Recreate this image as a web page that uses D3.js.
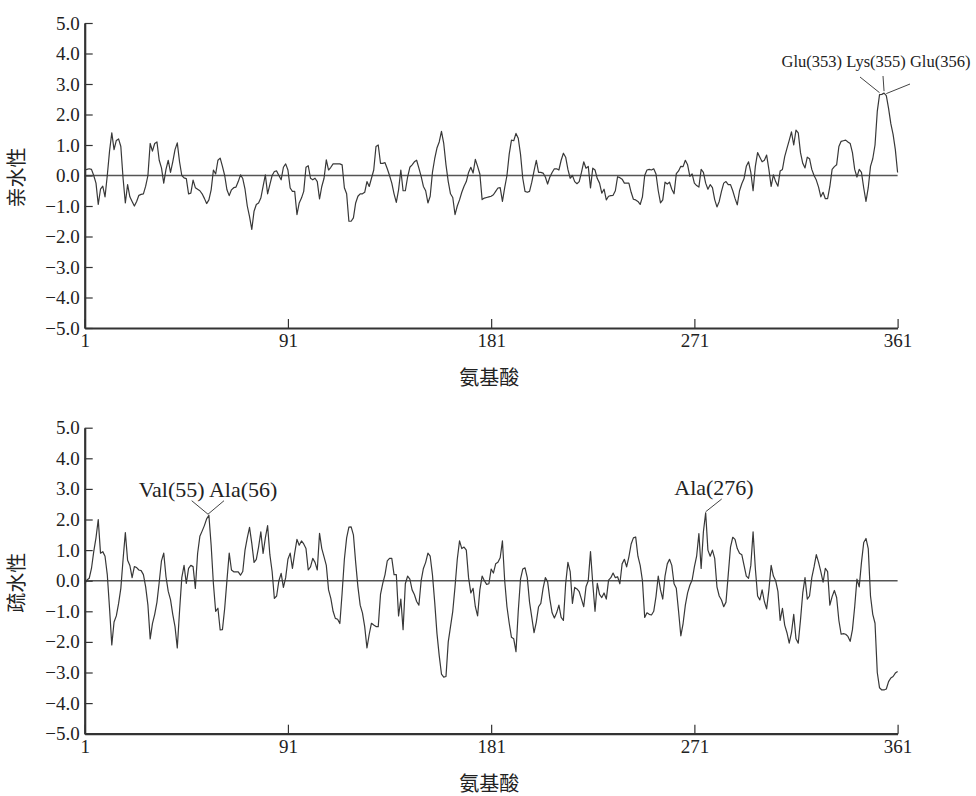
<!DOCTYPE html>
<html><head><meta charset="utf-8">
<script src="https://cdn.jsdelivr.net/npm/d3@7"></script>
<style>body{margin:0;background:#fff}</style>
</head><body>
<svg id="chart" width="976" height="796"></svg>
<script>
const residues = d3.range(1, 362);
const hydrophilicity = [
0.18,0.2,0.22,0.2,0.0,-0.25,-0.95,-0.45,-0.35,-0.7,
0.0,0.8,1.4,0.85,1.15,1.2,0.95,-0.1,-0.9,-0.3,
-0.7,-0.85,-1.0,-0.85,-0.65,-0.62,-0.6,-0.35,0.0,1.05,
0.8,1.05,1.1,0.5,0.25,-0.25,0.2,0.5,0.1,0.45,
0.85,1.07,0.45,0.0,-0.08,-0.1,-0.6,-0.58,-0.15,-0.4,
-0.45,-0.5,-0.6,-0.75,-0.92,-0.8,-0.47,0.18,0.05,0.5,
0.57,0.3,0.0,-0.47,-0.66,-0.47,-0.4,-0.38,-0.2,0.02,
-0.1,-0.45,-1.0,-1.35,-1.77,-1.17,-0.95,-0.9,-0.74,-0.36,
0.02,-0.6,-0.3,0.0,0.13,0.15,0.0,-0.14,0.27,0.38,
0.18,-0.41,-0.52,-0.52,-1.28,-0.9,-0.74,-0.52,0.27,0.32,
-0.09,-0.14,-0.09,-0.2,-0.77,-0.36,-0.09,0.51,0.18,0.27,
0.38,0.38,0.38,0.38,0.35,-0.4,-0.6,-1.5,-1.5,-1.39,
-0.9,-0.68,-0.6,-0.6,-0.55,-0.2,-0.36,-0.09,0.18,0.95,
1.0,0.4,0.4,0.42,0.22,0.0,-0.25,-0.6,-0.88,-0.47,
0.18,-0.5,-0.5,-0.05,0.27,0.35,0.45,0.5,0.24,-0.03,
-0.36,-0.5,-0.9,-0.68,0.1,0.55,0.9,1.1,1.45,1.05,
0.35,-0.2,-0.6,-0.72,-1.28,-1.0,-0.8,-0.55,-0.35,-0.2,
0.1,0.27,0.08,0.53,0.3,0.05,-0.79,-0.74,-0.72,-0.7,
-0.68,-0.63,-0.52,-0.41,-0.4,-0.85,-0.4,0.0,0.7,1.16,
1.14,1.38,1.22,0.7,-0.09,-0.52,-0.55,-0.52,-0.22,0.15,
0.5,0.1,0.1,0.08,-0.05,-0.28,-0.05,0.1,0.22,0.22,
0.18,0.5,0.73,0.6,0.2,-0.09,0.0,-0.2,-0.27,-0.2,
0.1,0.45,0.24,0.3,-0.41,0.24,0.18,-0.1,-0.25,-0.58,
-0.45,-0.8,-0.68,-0.66,-0.65,-0.5,-0.04,-0.07,-0.12,-0.25,
-0.25,-0.25,-0.55,-0.78,-0.8,-0.85,-0.95,-0.7,0.0,0.18,
0.2,0.18,0.22,0.05,-0.5,-0.9,-0.8,-0.22,-0.28,-0.22,
-0.45,-0.6,0.06,0.15,0.3,0.29,0.5,0.35,-0.03,0.05,
-0.25,-0.33,-0.38,0.2,0.1,-0.25,-0.45,-0.3,-0.4,-0.79,
-1.03,-0.85,-0.52,-0.25,-0.2,-0.3,-0.3,-0.5,-0.75,-0.96,
-0.5,-0.27,-0.1,0.3,0.45,0.1,-0.5,0.3,0.75,0.6,
0.45,0.5,0.67,0.2,-0.36,0.02,-0.2,-0.35,0.15,0.2,
0.62,0.89,1.15,1.43,1.0,1.49,1.4,0.75,0.4,0.25,
0.6,0.55,0.2,0.0,-0.15,-0.38,-0.7,-0.55,-0.76,-0.76,
-0.36,0.2,0.29,0.35,0.95,1.12,1.14,1.16,1.1,1.05,
0.75,0.2,-0.05,0.2,0.1,-0.41,-0.85,-0.4,0.3,0.55,
1.0,2.1,2.65,2.66,2.7,2.62,2.2,1.7,1.35,0.85,0.1
];
const hydrophobicity = [
-0.1,0.02,0.08,0.4,0.95,1.4,2.0,0.9,0.95,0.8,
0.2,-0.9,-2.1,-1.35,-1.15,-0.75,-0.25,0.7,1.57,0.67,
0.5,0.1,0.46,0.43,0.35,0.33,0.2,-0.2,-0.8,-1.9,
-1.4,-1.1,-0.7,-0.05,0.65,0.9,0.13,-0.35,-0.62,-1.1,
-1.5,-2.2,-1.0,0.1,0.5,-0.09,0.4,0.5,0.46,-0.25,
0.89,1.45,1.62,1.8,2.02,2.14,1.16,-0.1,-1.0,-0.9,
-1.61,-1.6,-0.9,0.02,0.9,0.35,0.29,0.29,0.29,0.18,
0.3,1.0,1.4,1.74,1.22,0.6,0.7,1.1,1.6,0.89,
1.4,1.8,0.85,0.3,-0.58,-0.5,0.0,0.24,-0.22,0.1,
0.7,0.9,0.4,0.9,1.35,1.16,1.3,1.2,1.05,0.35,
0.45,0.73,0.6,0.35,1.55,1.05,0.78,0.5,-0.3,-0.58,
-1.0,-1.23,-1.26,-1.4,-0.4,0.7,1.4,1.75,1.76,1.5,
0.6,-0.2,-0.8,-1.05,-1.5,-2.2,-1.75,-1.39,-1.45,-1.5,
-1.5,-0.45,-0.09,0.2,0.65,0.73,0.73,0.2,0.2,-1.15,
-0.6,-1.6,-0.1,0.15,0.05,-0.3,-0.45,-0.68,-0.8,0.0,
0.4,0.6,0.9,0.8,0.2,-0.7,-1.72,-2.45,-3.05,-3.15,
-3.13,-2.0,-1.5,-1.0,-0.2,0.7,1.3,1.05,1.1,1.0,
0.1,-0.4,-0.25,-0.85,-1.15,-0.3,0.15,0.0,-0.12,-0.1,
0.38,0.25,0.55,0.6,0.75,1.3,0.0,-0.85,-1.39,-1.85,
-1.9,-2.32,-1.0,0.05,0.38,0.42,0.1,-0.7,-1.2,-1.7,
-1.35,-0.85,-0.74,-0.25,0.1,-0.03,-0.6,-1.05,-1.22,-1.05,
-0.8,-1.2,-1.3,-0.1,0.6,0.3,-0.74,-0.22,-0.27,-0.36,
-0.6,-0.85,-0.2,0.0,0.95,-0.09,-1.0,-0.09,-0.45,-0.55,
-0.4,-0.6,0.02,0.1,0.25,0.1,0.13,-0.1,0.55,0.7,
0.45,0.78,1.2,1.4,1.43,0.8,0.5,0.0,-1.2,-1.05,
-1.1,-1.12,-1.0,-0.52,0.15,-0.3,-0.6,0.15,0.55,0.7,
0.5,-0.1,-0.25,-1.0,-1.8,-1.4,-0.8,-0.4,-0.15,0.02,
0.45,0.8,1.54,0.4,1.6,2.22,1.0,0.8,1.0,0.73,
-0.2,-0.5,-0.63,-0.85,-0.7,0.2,1.1,1.42,1.35,1.05,
0.9,0.85,0.5,0.15,0.08,0.5,1.6,0.4,-0.5,-0.63,
-0.3,-0.68,-0.92,-0.3,0.5,0.15,0.0,-0.35,-1.3,-0.9,
-1.45,-1.7,-2.04,-1.7,-1.1,-1.9,-2.04,-1.28,-0.4,0.1,
-0.6,-0.5,0.1,0.45,0.85,0.6,0.3,-0.05,0.4,0.3,
-0.8,-0.52,-0.32,-0.55,-1.3,-1.75,-1.73,-1.75,-1.82,-1.98,
-1.6,-0.85,0.05,-0.2,0.6,1.25,1.38,1.05,-0.5,-1.1,
-1.39,-3.0,-3.5,-3.57,-3.57,-3.54,-3.3,-3.18,-3.13,-3.02,-2.97
];
const xTickValues = [1, 91, 181, 271, 361];
const yTickValues = [-5, -4, -3, -2, -1, 0, 1, 2, 3, 4, 5];
const xTitle = "氨基酸";
const yTitles = ["亲水性", "疏水性"];
const topLabels = ["Glu(353) Lys(355) Glu(356)"];
const topLabelResidues = [353, 355, 356];
const bottomLabels = ["Val(55) Ala(56)", "Ala(276)"];
const bottomLabelResidues = [[55, 56], [276]];

const svg = d3.select("#chart");
const serif = "'Liberation Serif','DejaVu Serif',serif";
const cjk = "'Noto Sans CJK SC','Noto Sans CJK JP',sans-serif";
const left = 84.7, right = 897.6;

const panels = [
  {values: hydrophilicity, top: 23, bottom: 328, yTitle: yTitles[0]},
  {values: hydrophobicity, top: 427.7, bottom: 733.7, yTitle: yTitles[1]}
];

const x = d3.scaleLinear().domain([1, 361]).range([left, right]);

panels.forEach((p, pi) => {
  const y = d3.scaleLinear().domain([-5, 5]).range([p.bottom, p.top]);
  p.y = y;
  const g = svg.append("g");

  g.append("line").attr("x1", x(1)).attr("x2", x(361))
    .attr("y1", y(0)).attr("y2", y(0))
    .attr("stroke", "#555").attr("stroke-width", 1.6);

  const line = d3.line().x((d, i) => x(residues[i])).y(d => y(d));
  g.append("path").datum(p.values).attr("d", line)
    .attr("fill", "none").attr("stroke", "#383838").attr("stroke-width", 1.2)
    .attr("stroke-linejoin", "round");

  const ya = g.append("g").attr("transform", `translate(${left},0)`)
    .call(d3.axisLeft(y).tickValues(yTickValues).tickFormat(d3.format(".1f"))
      .tickSizeInner(-8).tickSizeOuter(0).tickPadding(5));
  ya.select(".domain").attr("stroke", "#333").attr("stroke-width", 2.2);
  ya.selectAll(".tick line").attr("stroke", "#333").attr("stroke-width", 1.2);
  ya.selectAll(".tick text").attr("font-family", serif).attr("font-size", 19).attr("fill", "#222");

  const xa = g.append("g").attr("transform", `translate(0,${p.bottom})`)
    .call(d3.axisBottom(x).tickValues(xTickValues).tickFormat(d3.format("d"))
      .tickSizeInner(-9).tickSizeOuter(0).tickPadding(6));
  xa.select(".domain").attr("stroke", "#333").attr("stroke-width", 2.2);
  xa.selectAll(".tick line").attr("stroke", "#333").attr("stroke-width", 1.2);
  xa.selectAll(".tick text").attr("font-family", serif).attr("font-size", 19).attr("fill", "#222");

  svg.append("text").attr("x", (left + right) / 2 - 2).attr("y", p.bottom + 57)
    .attr("text-anchor", "middle").attr("font-family", cjk).attr("font-size", 20)
    .attr("fill", "#222").text(xTitle);
  svg.append("text")
    .attr("transform", `translate(24,${(p.top + p.bottom) / 2 + 2}) rotate(-90)`)
    .attr("text-anchor", "middle").attr("font-family", cjk).attr("font-size", 20)
    .attr("fill", "#222").text(p.yTitle);
});

{
  const y = panels[0].y, v = panels[0].values;
  svg.append("text").attr("x", 876).attr("y", 67).attr("text-anchor", "middle")
    .attr("font-family", serif).attr("font-size", 16.5).attr("fill", "#222").text(topLabels[0]);
  const starts = [[860, 77], [883, 76], [910, 84]];
  topLabelResidues.forEach((r, i) => {
    svg.append("line").attr("x1", starts[i][0]).attr("y1", starts[i][1])
      .attr("x2", x(r)).attr("y2", y(v[r - 1]) - 2)
      .attr("stroke", "#444").attr("stroke-width", 1);
  });
}
{
  const y = panels[1].y, v = panels[1].values;
  svg.append("text").attr("x", 208).attr("y", 497).attr("text-anchor", "middle")
    .attr("font-family", serif).attr("font-size", 22).attr("fill", "#222").text(bottomLabels[0]);
  const tip = [x(55.6), y(v[55]) - 1];
  [[191.7, 500.7], [224, 500.7]].forEach(s => {
    svg.append("line").attr("x1", s[0]).attr("y1", s[1]).attr("x2", tip[0]).attr("y2", tip[1])
      .attr("stroke", "#444").attr("stroke-width", 1);
  });
  svg.append("text").attr("x", 714).attr("y", 495).attr("text-anchor", "middle")
    .attr("font-family", serif).attr("font-size", 22).attr("fill", "#222").text(bottomLabels[1]);
  svg.append("line").attr("x1", 721.7).attr("y1", 499).attr("x2", x(276)).attr("y2", y(v[275]) - 1)
    .attr("stroke", "#444").attr("stroke-width", 1);
}
</script>
</body></html>
